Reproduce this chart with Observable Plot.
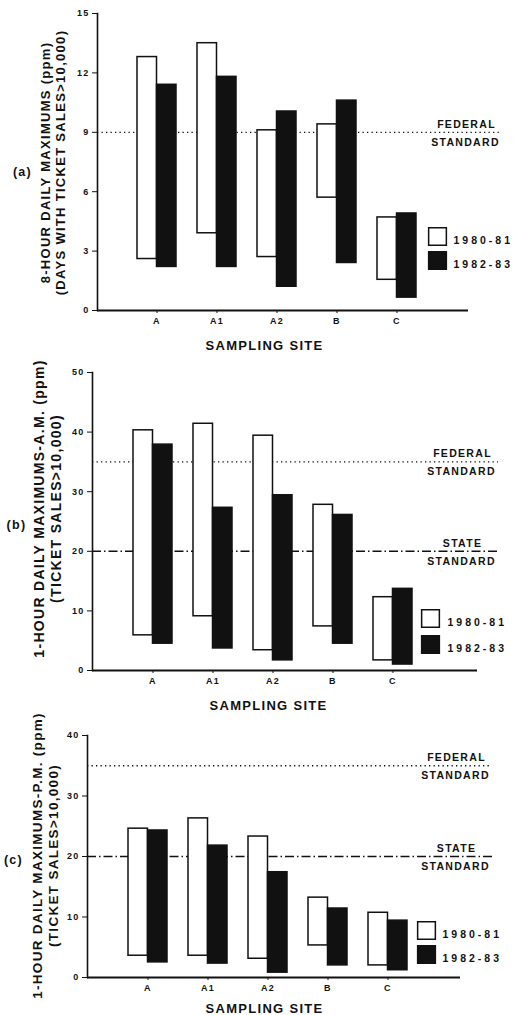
<!DOCTYPE html>
<html><head><meta charset="utf-8">
<script src="https://cdn.jsdelivr.net/npm/d3@7"></script>
<script src="https://cdn.jsdelivr.net/npm/@observablehq/plot@0.6"></script>
<style>
body{margin:0;background:#fff;}
#chart svg{display:block;}
</style></head><body><div id="chart"></div>
<script>
const sites = ["A", "A1", "A2", "B", "C"];
const periods = ["1980-81", "1982-83"];

// (a) 8-hour daily maximums (ppm), days with ticket sales > 10,000
const eightLow80 = [2.6, 3.9, 2.7, 5.7, 1.55];
const eightHigh80 = [12.8, 13.5, 9.1, 9.4, 4.7];
const eightLow82 = [2.2, 2.2, 1.2, 2.4, 0.65];
const eightHigh82 = [11.4, 11.8, 10.05, 10.6, 4.9];

// (b) 1-hour daily maximums, A.M. (ppm)
const amLow80 = [5.9, 9.1, 3.4, 7.4, 1.7];
const amHigh80 = [40.3, 41.4, 39.4, 27.8, 12.3];
const amLow82 = [4.5, 3.7, 1.7, 4.5, 1.0];
const amHigh82 = [37.9, 27.3, 29.4, 26.1, 13.7];

// (c) 1-hour daily maximums, P.M. (ppm)
const pmLow80 = [3.6, 3.6, 3.1, 5.3, 2.0];
const pmHigh80 = [24.6, 26.3, 23.3, 13.2, 10.7];
const pmLow82 = [2.5, 2.3, 0.8, 2.0, 1.2];
const pmHigh82 = [24.3, 21.8, 17.4, 11.4, 9.4];

const eightHourStandards = [{name: "FEDERAL", kind: "federal", value: 9}];
const oneHourStandards = [{name: "FEDERAL", kind: "federal", value: 35}, {name: "STATE", kind: "state", value: 20}];

const ticksA = [0, 3, 6, 9, 12, 15];
const ticksB = [0, 10, 20, 30, 40, 50];
const ticksC = [0, 10, 20, 30, 40];

const FONT = "'Liberation Sans', Arial, Helvetica, sans-serif";

function rows(low, high, period) {
  return sites.map((s, i) => ({site: s, period, low: low[i], high: high[i]}));
}

function panel(cfg) {
  const W = 513;
  const at = (x, y) => ({frameAnchor: "top-left", dx: x - cfg.ml, dy: y - cfg.mt});
  const axisY = cfg.h - cfg.mb;
  const d80 = rows(cfg.low80, cfg.high80, periods[0]);
  const d82 = rows(cfg.low82, cfg.high82, periods[1]);
  const fed = cfg.standards.filter(d => d.kind === "federal");
  const state = cfg.standards.filter(d => d.kind === "state");
  const half = 19.5;
  const svg = Plot.plot({
    width: W, height: cfg.h,
    marginTop: cfg.mt, marginBottom: cfg.mb, marginLeft: cfg.ml, marginRight: cfg.mr,
    style: {fontFamily: FONT, fontSize: "9px", fontWeight: "bold", color: "#111", background: "#fff", letterSpacing: "1.3px", overflow: "visible"},
    x: {type: "band", domain: sites, range: [cfg.x0, cfg.x0 + 300], paddingInner: 0.35, paddingOuter: 0.175, label: null, tickSize: 3, tickPadding: 4},
    y: {domain: [0, cfg.ymax], ticks: cfg.ticks, tickSize: 5, tickPadding: 3, label: null},
    color: {domain: periods, range: ["#fff", "#111"]},
    marks: [
      Plot.frame({anchor: "left", stroke: "#111", strokeWidth: 1.6}),
      Plot.ruleY(fed, {y: "value", stroke: "#111", strokeWidth: 1.3, strokeDasharray: "1.3,3.2"}),
      Plot.ruleY(state, {y: "value", stroke: "#111", strokeWidth: 1.4, strokeDasharray: "9,3,1.5,3"}),
      Plot.ruleY([0], {stroke: "#111", strokeWidth: 1.8, insetRight: cfg.axisInset}),
      Plot.barY(d80, {x: "site", y1: "low", y2: "high", fill: "period", stroke: "#111", strokeWidth: 1.5, insetRight: half}),
      Plot.barY(d82, {x: "site", y1: "low", y2: "high", fill: "period", stroke: "#111", strokeWidth: 1.5, insetLeft: half}),
      Plot.text(cfg.standards, {y: "value", text: "name", frameAnchor: "right", textAnchor: "middle", dx: -36, dy: -8, fontSize: 10.5}),
      Plot.text(cfg.standards, {y: "value", text: () => "STANDARD", frameAnchor: "right", textAnchor: "middle", dx: -37, dy: 10, fontSize: 10.5}),
      Plot.text([cfg.title], {...at(cfg.titleX, cfg.titleY), rotate: -90, textAnchor: "middle", lineAnchor: "middle", lineHeight: 1.2, fontSize: cfg.titleSize}),
      Plot.text([cfg.tag], {...at(cfg.tagX, cfg.tagY), textAnchor: "middle", fontSize: 12.5}),
      Plot.text(["SAMPLING SITE"], {...at(cfg.siteX, axisY + cfg.siteDy), textAnchor: "middle", fontSize: 13}),
      Plot.dot([periods[0]], {...at(cfg.legX, cfg.legY[0]), symbol: "square", r: 10, fill: d => d, stroke: "#111", strokeWidth: 1.5}),
      Plot.dot([periods[1]], {...at(cfg.legX, cfg.legY[1]), symbol: "square", r: 10, fill: d => d, stroke: "#111", strokeWidth: 1.5}),
      Plot.text([periods[0]], {...at(cfg.legTX, cfg.legY[0]), textAnchor: "start", fontSize: 10.5}),
      Plot.text([periods[1]], {...at(cfg.legTX, cfg.legY[1]), textAnchor: "start", fontSize: 10.5})
    ]
  });
  d3.select(svg).selectAll("text")
    .filter(function() { return periods.includes(this.textContent); })
    .style("letter-spacing", "3px");
  return svg;
}

const chart = document.getElementById("chart");
chart.append(panel({
  h: 358, mt: 13, mb: 48, ml: 97, mr: 11, x0: 126, ymax: 15, ticks: ticksA, axisInset: 34,
  low80: eightLow80, high80: eightHigh80, low82: eightLow82, high82: eightHigh82,
  standards: eightHourStandards,
  title: "8-HOUR DAILY MAXIMUMS (ppm)\n(DAYS WITH TICKET SALES>10,000)", titleX: 52, titleY: 162, titleSize: 13,
  tag: "(a)", tagX: 22, tagY: 167, siteX: 264, siteDy: 30,
  legX: 437, legY: [236, 260], legTX: 453
}));
chart.append(panel({
  h: 354, mt: 14, mb: 42, ml: 92, mr: 15, x0: 122, ymax: 50, ticks: ticksB, axisInset: 21,
  low80: amLow80, high80: amHigh80, low82: amLow82, high82: amHigh82,
  standards: oneHourStandards,
  title: "1-HOUR DAILY MAXIMUMS-A.M. (ppm)\n(TICKET SALES>10,000)", titleX: 47, titleY: 150, titleSize: 14,
  tag: "(b)", tagX: 16, tagY: 162, siteX: 268, siteDy: 30,
  legX: 430, legY: [260, 286], legTX: 447
}));
chart.append(panel({
  h: 303, mt: 23, mb: 38, ml: 87, mr: 21, x0: 117, ymax: 40, ticks: ticksC, axisInset: 32,
  low80: pmLow80, high80: pmHigh80, low82: pmLow82, high82: pmHigh82,
  standards: oneHourStandards,
  title: "1-HOUR DAILY MAXIMUMS-P.M. (ppm)\n(TICKET SALES>10,000)", titleX: 44, titleY: 143, titleSize: 13.5,
  tag: "(c)", tagX: 13, tagY: 143, siteX: 264, siteDy: 26,
  legX: 426, legY: [218, 242], legTX: 442
}));
</script></body></html>
